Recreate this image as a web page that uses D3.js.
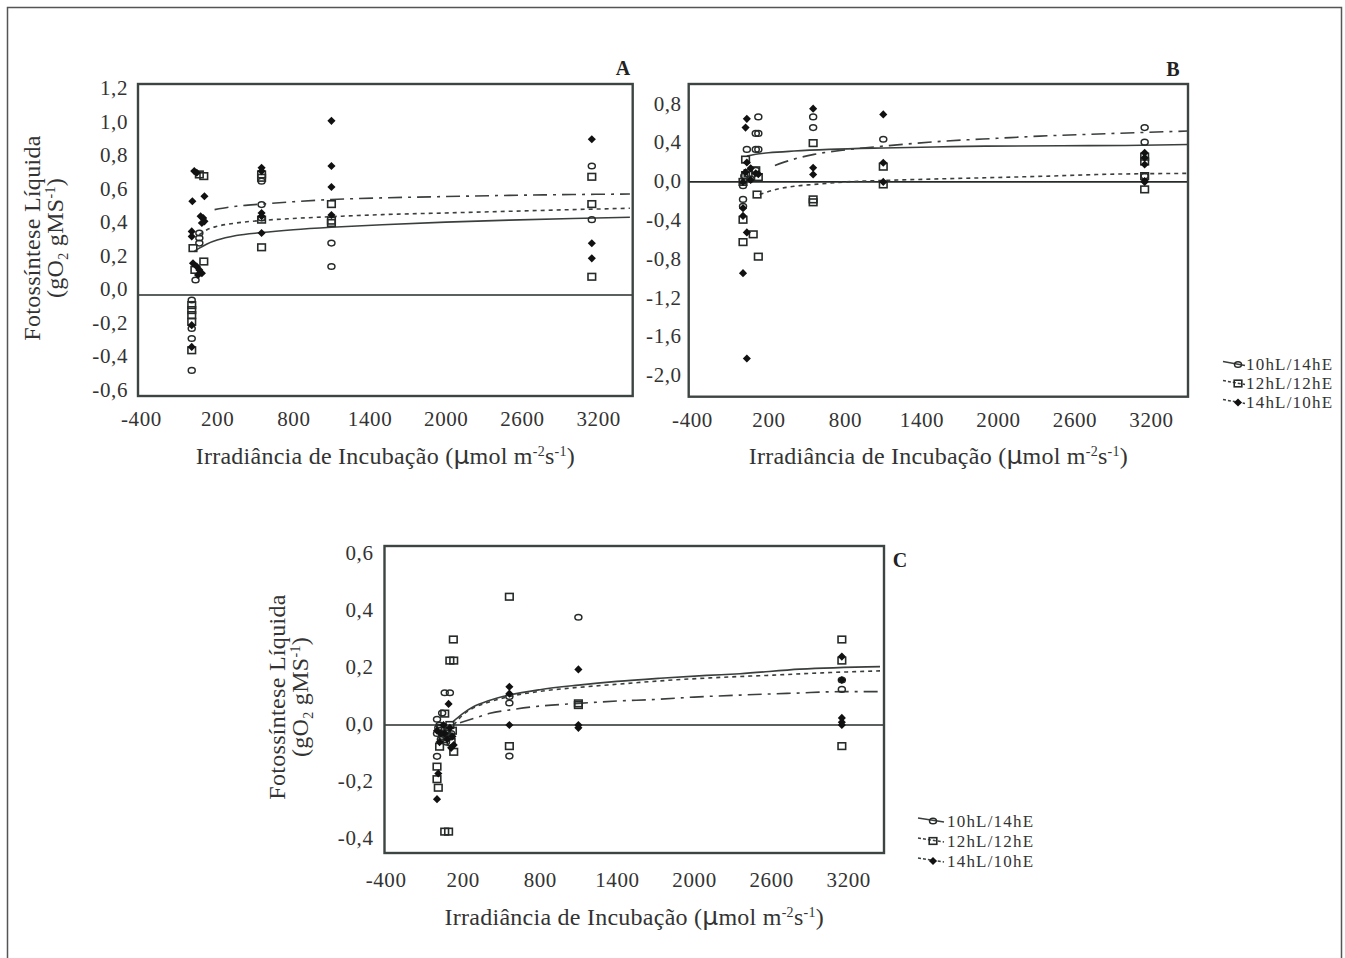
<!DOCTYPE html>
<html>
<head>
<meta charset="utf-8">
<script src="https://cdn.jsdelivr.net/npm/d3@7"></script>
<style>
  body { margin: 0; background: #fff; }
  svg { display: block; }
  text { font-family: "Liberation Serif", "Times New Roman", serif; }
</style>
</head>
<body>
<svg id="chart" width="1345" height="958"></svg>
<script>
// legend names of the three photoperiods
const seriesNames = ["10hL/14hE", "12hL/12hE", "14hL/10hE"];

// tick labels
const xTicks = [-400, 200, 800, 1400, 2000, 2600, 3200];
const yTicksA = [-0.6, -0.4, -0.2, 0, 0.2, 0.4, 0.6, 0.8, 1.0, 1.2];
const yTicksB = [-2.0, -1.6, -1.2, -0.8, -0.4, 0, 0.4, 0.8];
const yTicksC = [-0.4, -0.2, 0, 0.2, 0.4, 0.6];

// panel A : [irradiance, net photosynthesis]
const aCircle = [[0,-0.03],[0,-0.20],[0,-0.26],[0,-0.45],[30,0.09],[60,0.31],[60,0.34],[60,0.37],
  [550,0.68],[550,0.54],[550,0.46],[1100,0.31],[1100,0.17],[3150,0.77],[3150,0.45]];
const aSquare = [[0,-0.06],[0,-0.09],[0,-0.12],[0,-0.16],[0,-0.33],[10,0.28],[60,0.72],[95,0.71],
  [95,0.20],[25,0.15],[550,0.72],[550,0.70],[550,0.45],[550,0.285],[1100,0.543],[1100,0.444],
  [1100,0.43],[3150,0.706],[3150,0.543],[3150,0.109]];
const aDiamond = [[0,-0.18],[0,-0.31],[20,0.74],[40,0.73],[5,0.56],[100,0.59],[70,0.47],[90,0.46],
  [100,0.44],[80,0.43],[0,0.38],[0,0.35],[10,0.19],[40,0.17],[60,0.15],[80,0.13],[50,0.12],
  [550,0.76],[550,0.74],[550,0.49],[550,0.47],[550,0.37],[1100,1.04],[1100,0.77],[1100,0.645],
  [1100,0.478],[3150,0.93],[3150,0.309],[3150,0.219]];
const aFit10 = [[20,0.26],[60,0.28],[120,0.305],[200,0.328],[350,0.355],[550,0.373],[800,0.39],
  [1100,0.405],[1500,0.42],[2000,0.435],[2500,0.447],[3000,0.457],[3450,0.464]];
const aFit12 = [[60,0.36],[120,0.39],[200,0.41],[350,0.43],[550,0.445],[800,0.457],[1100,0.468],
  [1500,0.48],[2000,0.49],[2500,0.50],[3000,0.51],[3450,0.518]];
const aFit14 = [[180,0.51],[350,0.53],[550,0.543],[800,0.557],[1100,0.57],[1500,0.58],[2000,0.588],
  [2500,0.595],[3000,0.60],[3450,0.603]];

// panel B
const bCircle = [[120,0.67],[100,0.50],[120,0.50],[30,0.335],[100,0.335],[120,0.335],[10,0.06],
  [60,0.03],[0,-0.04],[0,-0.18],[0,-0.25],[100,0.12],[550,0.67],[550,0.56],[1100,0.44],
  [3150,0.56],[3150,0.41],[3150,0.06]];
const bSquare = [[20,0.23],[20,0.07],[100,0.12],[120,0.05],[110,-0.13],[0,-0.39],[80,-0.54],
  [0,-0.62],[120,-0.77],[0,0.0],[40,0.09],[550,0.40],[550,-0.18],[550,-0.21],[1100,0.157],
  [1100,-0.026],[3150,0.26],[3150,0.21],[3150,0.06],[3150,-0.077]];
const bDiamond = [[30,0.65],[20,0.56],[30,0.20],[20,0.10],[0,0.0],[60,0.02],[100,0.09],[120,0.08],
  [0,-0.27],[0,-0.35],[30,-0.52],[0,-0.94],[30,-1.82],[60,0.14],[550,0.755],[550,0.146],
  [550,0.077],[1100,0.696],[1100,0.198],[1100,0.0],[3150,0.30],[3150,0.25],[3150,0.18],
  [3150,0.01],[3150,0.0]];
const bFit10 = [[30,0.266],[100,0.285],[200,0.30],[400,0.318],[675,0.335],[1100,0.35],[1500,0.36],
  [1900,0.369],[2500,0.373],[3000,0.376],[3490,0.385]];
const bFit12 = [[130,-0.13],[250,-0.08],[400,-0.045],[557,-0.026],[800,0.0],[1100,0.015],
  [1500,0.03],[1900,0.043],[2400,0.06],[2800,0.077],[3490,0.088]];
const bFit14 = [[250,0.17],[400,0.235],[557,0.284],[800,0.33],[1100,0.369],[1576,0.42],[2000,0.45],
  [2326,0.472],[2700,0.49],[3075,0.507],[3490,0.524]];

// panel C
const cCircle = [[60,0.113],[100,0.113],[40,0.042],[20,0.0],[0,-0.03],[30,-0.05],[0,-0.11],
  [80,-0.02],[0,0.02],[10,-0.01],[40,-0.04],[70,-0.06],[110,-0.03],
  [563,0.077],[563,-0.109],[563,0.10],[1100,0.378],[3150,0.125],[3150,0.158]];
const cSquare = [[127,0.30],[100,0.226],[130,0.226],[60,0.04],[40,-0.02],[80,-0.04],[20,-0.076],
  [130,-0.094],[0,-0.146],[0,-0.19],[10,-0.22],[60,-0.374],[90,-0.374],[100,0.0],
  [30,-0.01],[50,-0.05],[70,-0.03],[110,-0.06],[120,-0.02],
  [563,0.45],[563,-0.074],[1100,0.076],[1100,0.07],[3150,0.30],[3150,0.226],[3150,-0.074]];
const cDiamond = [[90,0.074],[120,-0.04],[20,-0.06],[0,-0.02],[50,0.0],[10,-0.17],[0,-0.26],
  [60,-0.03],[130,-0.07],[30,-0.03],[80,-0.05],[100,-0.01],[110,-0.08],
  [563,0.134],[563,0.11],[563,0.0],[1100,0.195],[1100,0.0],[1100,-0.01],
  [3150,0.24],[3150,0.158],[3150,0.025],[3150,0.0],[3150,0.01]];
const cFit10 = [[120,0.01],[200,0.04],[283,0.064],[400,0.085],[563,0.105],[800,0.124],[1100,0.14],
  [1400,0.153],[1735,0.164],[2100,0.174],[2358,0.18],[2825,0.196],[3447,0.205]];
const cFit12 = [[130,0.0],[200,0.035],[283,0.06],[400,0.08],[563,0.10],[800,0.118],[1100,0.132],
  [1400,0.143],[1840,0.158],[2200,0.167],[2617,0.175],[3000,0.183],[3447,0.19]];
const cFit14 = [[179,0.008],[300,0.025],[412,0.041],[600,0.055],[750,0.064],[1100,0.076],
  [1400,0.084],[1710,0.09],[2000,0.098],[2358,0.105],[2800,0.112],[3136,0.117],[3447,0.117]];

const ink = "#262b29";
const dashes = [null, "4,4", "14,6,3,6"];
const markerTypes = ["circle", "square", "diamond"];

const locale = d3.formatLocale({decimal: ",", thousands: ".", grouping: [3], currency: ["", ""], minus: "-"});
const fmtY = locale.format(".1f");
const fmtX = locale.format("d");

const svg = d3.select("#chart");
svg.append("rect").attr("width", 1345).attr("height", 958).attr("fill", "#fff");

// outer border of the figure
svg.append("path")
  .attr("d", "M7.5,958V7.5H1341.5V958")
  .attr("fill", "none").attr("stroke", "#555").attr("stroke-width", 1.5);

function marker(sel, type) {
  if (type === "circle") {
    sel.append("ellipse").attr("rx", 3.5).attr("ry", 2.8)
      .attr("fill", "none").attr("stroke", ink).attr("stroke-width", 1.5);
  } else if (type === "square") {
    sel.append("rect").attr("x", -3.8).attr("y", -3.3).attr("width", 7.6).attr("height", 6.6)
      .attr("fill", "none").attr("stroke", ink).attr("stroke-width", 1.6);
  } else {
    sel.append("path").attr("d", d3.symbol().type(d3.symbolDiamond2).size(42)())
      .attr("fill", "#111");
  }
}

// text with sub/superscript parts: [text, "sup"|"sub"|null, font]
function richText(t, parts) {
  let shift = 0;
  parts.forEach(([s, kind, font]) => {
    const ts = t.append("tspan").text(s);
    let target = kind === "sup" ? -8 : kind === "sub" ? 5 : 0;
    ts.attr("dy", target - shift);
    shift = target;
    if (kind) ts.attr("font-size", 14);
    if (font) ts.attr("font-family", font).attr("font-size", 25);
  });
}

const xTitleParts = [["Irradiância de Incubação (", null], ["μ", null, "DejaVu Sans"], ["mol m", null],
  ["-2", "sup"], ["s", null], ["-1", "sup"], [")", null]];
const yTitleParts = [["(gO", null], ["2", "sub"], [" gMS", null], ["-1", "sup"], [")", null]];

function drawPanel(p) {
  const g = svg.append("g");
  const x = d3.scaleLinear().domain(p.xDomain).range([p.left, p.right]);
  const y = d3.scaleLinear().domain(p.yDomain).range([p.bottom, p.top]);

  // zero reference line
  g.append("line")
    .attr("x1", p.left).attr("x2", p.right)
    .attr("y1", y(0)).attr("y2", y(0))
    .attr("stroke", ink).attr("stroke-width", 1.7);

  // fitted curves
  const line = d3.line().x(d => x(d[0])).y(d => y(d[1])).curve(d3.curveMonotoneX);
  p.fits.forEach((f, i) => {
    g.append("path").attr("d", line(f))
      .attr("fill", "none").attr("stroke", "#3a3f3d").attr("stroke-width", 1.6)
      .attr("stroke-dasharray", dashes[i]);
  });

  // observations
  [p.circles, p.squares, p.diamonds].forEach((pts, i) => {
    g.append("g").selectAll("g").data(pts).join("g")
      .attr("transform", d => `translate(${x(d[0])},${y(d[1])})`)
      .each(function () { marker(d3.select(this), markerTypes[i]); });
  });

  // frame
  g.append("rect")
    .attr("x", p.left).attr("y", p.top)
    .attr("width", p.right - p.left).attr("height", p.bottom - p.top)
    .attr("fill", "none").attr("stroke", "#3d4542").attr("stroke-width", 2.4);

  // axes: labels only, no tick marks
  const ya = g.append("g").attr("transform", `translate(${p.left},0)`)
    .call(d3.axisLeft(y).tickValues(p.yTicks).tickFormat(fmtY).tickSize(0).tickPadding(p.yPad));
  const xa = g.append("g").attr("transform", `translate(0,${p.bottom})`)
    .call(d3.axisBottom(x).tickValues(xTicks).tickFormat(fmtX).tickSize(0).tickPadding(p.xPad));
  [ya, xa].forEach(a => {
    a.select(".domain").remove();
    a.attr("font-family", null).attr("font-size", 21).style("color", "#333")
      .attr("letter-spacing", 0.6);
  });
  ya.selectAll("text").attr("y", p.yShift);

  // panel letter
  g.append("text").attr("x", p.letter[0]).attr("y", p.letter[1])
    .attr("text-anchor", "middle").attr("font-weight", "bold").attr("font-size", 20)
    .attr("fill", "#222").text(p.key);

  // x title
  const xt = g.append("text").attr("x", (p.left + p.right) / 2).attr("y", p.xTitleY)
    .attr("text-anchor", "middle").attr("font-size", 24).attr("fill", "#333")
    .attr("letter-spacing", 0.25);
  richText(xt, xTitleParts);

  // y title
  if (p.yTitle) {
    const t = p.yTitle;
    g.append("text").attr("transform", `translate(${t.x1},${t.cy}) rotate(-90)`)
      .attr("dy", "0.35em").attr("text-anchor", "middle").attr("font-size", 24)
      .attr("fill", "#333").attr("letter-spacing", 0.3).text("Fotossíntese Líquida");
    const t2 = g.append("text").attr("transform", `translate(${t.x2},${t.cy}) rotate(-90)`)
      .attr("text-anchor", "middle").attr("font-size", 24).attr("fill", "#333")
      .attr("letter-spacing", 0.3);
    richText(t2.append("tspan").attr("dy", "0.35em"), yTitleParts);
  }

  // legend
  if (p.legend) {
    const L = p.legend;
    seriesNames.forEach((name, i) => {
      const row = g.append("g").attr("transform", `translate(0,${L.ys[i]})`);
      row.append("line").attr("x1", L.x0).attr("x2", L.x1).attr("y1", -3).attr("y2", 1)
        .attr("stroke", "#3a3f3d").attr("stroke-width", 1.5).attr("stroke-dasharray", dashes[i] ? "3,2" : null);
      marker(row.append("g").attr("transform", `translate(${L.x0 + 15},0)`), markerTypes[i]);
      row.append("text").attr("x", L.tx).attr("y", 0).attr("dy", "0.35em")
        .attr("font-size", 17).attr("letter-spacing", 1.2).attr("fill", "#333").text(name);
    });
  }
}

const panels = [
  {key: "A", left: 138, right: 632.7, top: 84, bottom: 396, xDomain: [-423, 3472], yDomain: [-0.603, 1.26],
   yTicks: yTicksA, yPad: 10, xPad: 15, yShift: -6, circles: aCircle, squares: aSquare, diamonds: aDiamond,
   fits: [aFit10, aFit12, aFit14], letter: [623, 75], xTitleY: 464,
   yTitle: {x1: 32, x2: 63, cy: 238}, legend: null},
  {key: "B", left: 688.7, right: 1188, top: 84, bottom: 396.7, xDomain: [-426, 3490], yDomain: [-2.213, 1.009],
   yTicks: yTicksB, yPad: 7, xPad: 15, yShift: -1, circles: bCircle, squares: bSquare, diamonds: bDiamond,
   fits: [bFit10, bFit12, bFit14], letter: [1173, 76], xTitleY: 464, yTitle: null,
   legend: {x0: 1223, x1: 1245, tx: 1246, ys: [364.5, 383.5, 402.5]}},
  {key: "C", left: 384.5, right: 884, top: 546, bottom: 853, xDomain: [-408.6, 3478], yDomain: [-0.449, 0.628],
   yTicks: yTicksC, yPad: 11, xPad: 19, yShift: -1, circles: cCircle, squares: cSquare, diamonds: cDiamond,
   fits: [cFit10, cFit12, cFit14], letter: [900, 567], xTitleY: 925,
   yTitle: {x1: 277, x2: 308, cy: 697},
   legend: {x0: 918, x1: 944, tx: 947, ys: [821, 841, 861]}}
];

panels.forEach(drawPanel);
</script>
</body>
</html>
